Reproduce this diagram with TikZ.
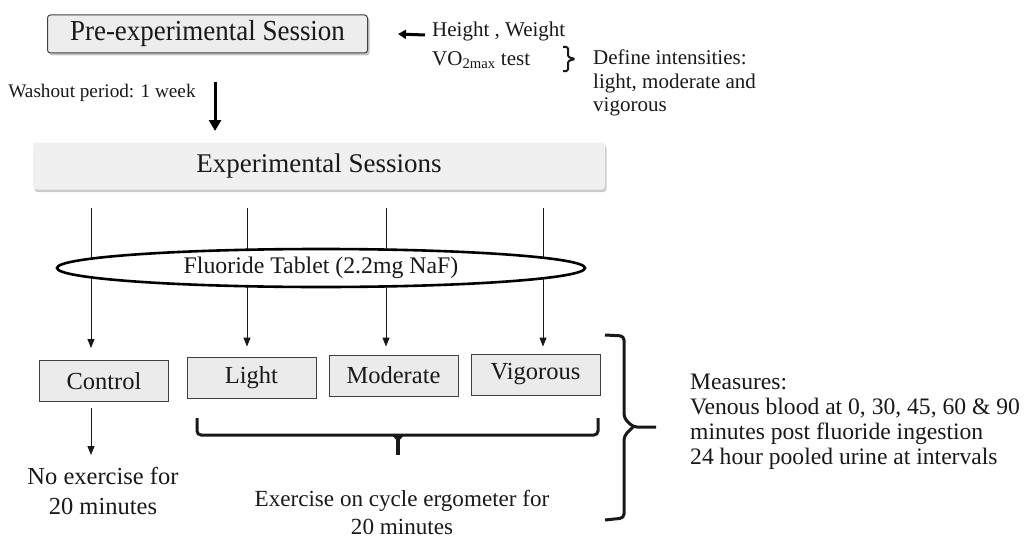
\documentclass[tikz,border=0pt]{standalone}
\usepackage{fontspec}
\setmainfont{Liberation Serif}
\newfontfamily\narrowserif[FakeStretch=0.93]{Liberation Serif}
\usetikzlibrary{arrows.meta,shadows,shapes.geometric}
\begin{document}
\begin{tikzpicture}[x=1pt,y=-1pt,
  fs/.style={font=\fontsize{#1}{#1}\selectfont},
  box/.style={draw=black!75, line width=0.9pt, fill=black!8, minimum width=129pt,
    minimum height=41pt, inner sep=0pt, text=black!90, fs=24.5},
  thinarrow/.style={line width=1pt, draw=black!90, -{Triangle[length=9pt,width=7pt]}},
  thickarrow/.style={line width=3pt, -{Triangle[length=11pt,width=12pt]}},
  bracket/.style={line width=3pt, rounded corners=4pt, draw=black!90},
  txt/.style={inner sep=0pt, text=black!90},
]
\useasboundingbox (0,0) rectangle (1032,543);
\fill[white] (0,0) rectangle (1032,543);

% top boxes
\node[draw=black!75, line width=1pt, fill=black!7, rounded corners=3pt,
  minimum width=320pt, minimum height=38pt, inner sep=0pt, text=black!90,
  font=\narrowserif\fontsize{29}{29}\selectfont,
  drop shadow={shadow xshift=2pt, shadow yshift=-2.5pt, fill=black!45}]
  (pre) at (207.5,34) {Pre-experimental Session};
\node[fill=black!6, rounded corners=3pt, minimum width=572pt, minimum height=47pt,
  inner sep=0pt, text=black!90, fs=27,
  drop shadow={shadow xshift=1.5pt, shadow yshift=-2.5pt, fill=black!40}]
  (exp) at (319,166) {Experimental Sessions};

% side texts
\node[txt, fs=21, anchor=base west] (hw) at (432,37) {Height , Weight};
\node[txt, fs=21, anchor=base west] (vo) at (432,65) {VO\textsubscript{2max} test};
\node[txt, anchor=north west, align=left, font=\fontsize{21}{23.5}\selectfont]
  (def) at (593,50) {Define intensities:\\light, moderate and\\vigorous};
\node[txt, fs=19.2] (wash) at (102,93) {Washout period: 1 week};

\coordinate (hwtail) at (425,35);
\draw[line width=3pt, -{Triangle[length=8pt,width=9pt]}] (hwtail) -- (pre.east -| 398,0);

% small brace
\draw[line width=2pt, rounded corners=1.5pt, draw=black!90]
  (563,47) -- (568,47) -- (568,57) -- (575,59) -- (568,61) -- (568,71) -- (563,71);

% thick arrow
\coordinate (washtop) at (215,82);
\draw[thickarrow] (washtop) -- (215,131);

% branch boxes
\node[box] (ctrl) at (104,381) {Control};
\node[box] (light) at (251.5,377.5) {Light};
\node[box] (mod) at (393.5,375.5) {Moderate};
\node[box] (vig) at (535.5,374.5) {Vigorous};

% branch lines
\coordinate (t1) at (91,208);
\coordinate (t2) at (247,208);
\coordinate (t3) at (386,208);
\coordinate (t4) at (543,208);
\draw[thinarrow, shorten >=12pt] (t1) -- (t1 |- ctrl.north);
\draw[thinarrow, shorten >=10pt] (t2) -- (t2 |- light.north);
\draw[thinarrow, shorten >=8pt] (t3) -- (t3 |- mod.north);
\draw[thinarrow, shorten >=7pt] (t4) -- (t4 |- vig.north);

% ellipse
\node[ellipse, draw=black, line width=2.6pt, fill=white, minimum width=528pt,
  minimum height=38pt, inner sep=0pt, text=black!90, fs=23.8]
  (tab) at (321,268) {Fluoride Tablet (2.2mg NaF)};

% control down
\node[txt, align=center, font=\fontsize{24.5}{30}\selectfont] (noex) at (103,491)
  {No exercise for\\20 minutes};
\draw[thinarrow, shorten <=6pt] (ctrl.south -| t1) -- (91,455);

% bottom bracket
\draw[bracket] (197,418) -- (197,435) -- (598,435) -- (598,418);
\draw[line width=3.5pt, draw=black!90] (398,434) -- (398,455);
\fill[black!90] (391,434) -- (405,434) -- (398,442) -- cycle;
\node[txt, align=center, font=\fontsize{23.1}{28}\selectfont] (exer) at (402,512)
  {Exercise on cycle ergometer for\\20 minutes};

% big brace
\draw[bracket] (605,335) -- (624,336) -- (624,418) -- (633,427) -- (656,427);
\draw[bracket] (633,427) -- (624,436) -- (624,518) -- (605,520);

\node[txt, anchor=north west, align=left, font=\fontsize{23.6}{24.8}\selectfont]
  (meas) at (690,374) {Measures:\\Venous blood at 0, 30, 45, 60 \& 90\\minutes post fluoride ingestion\\24 hour pooled urine at intervals};
\end{tikzpicture}
\end{document}
